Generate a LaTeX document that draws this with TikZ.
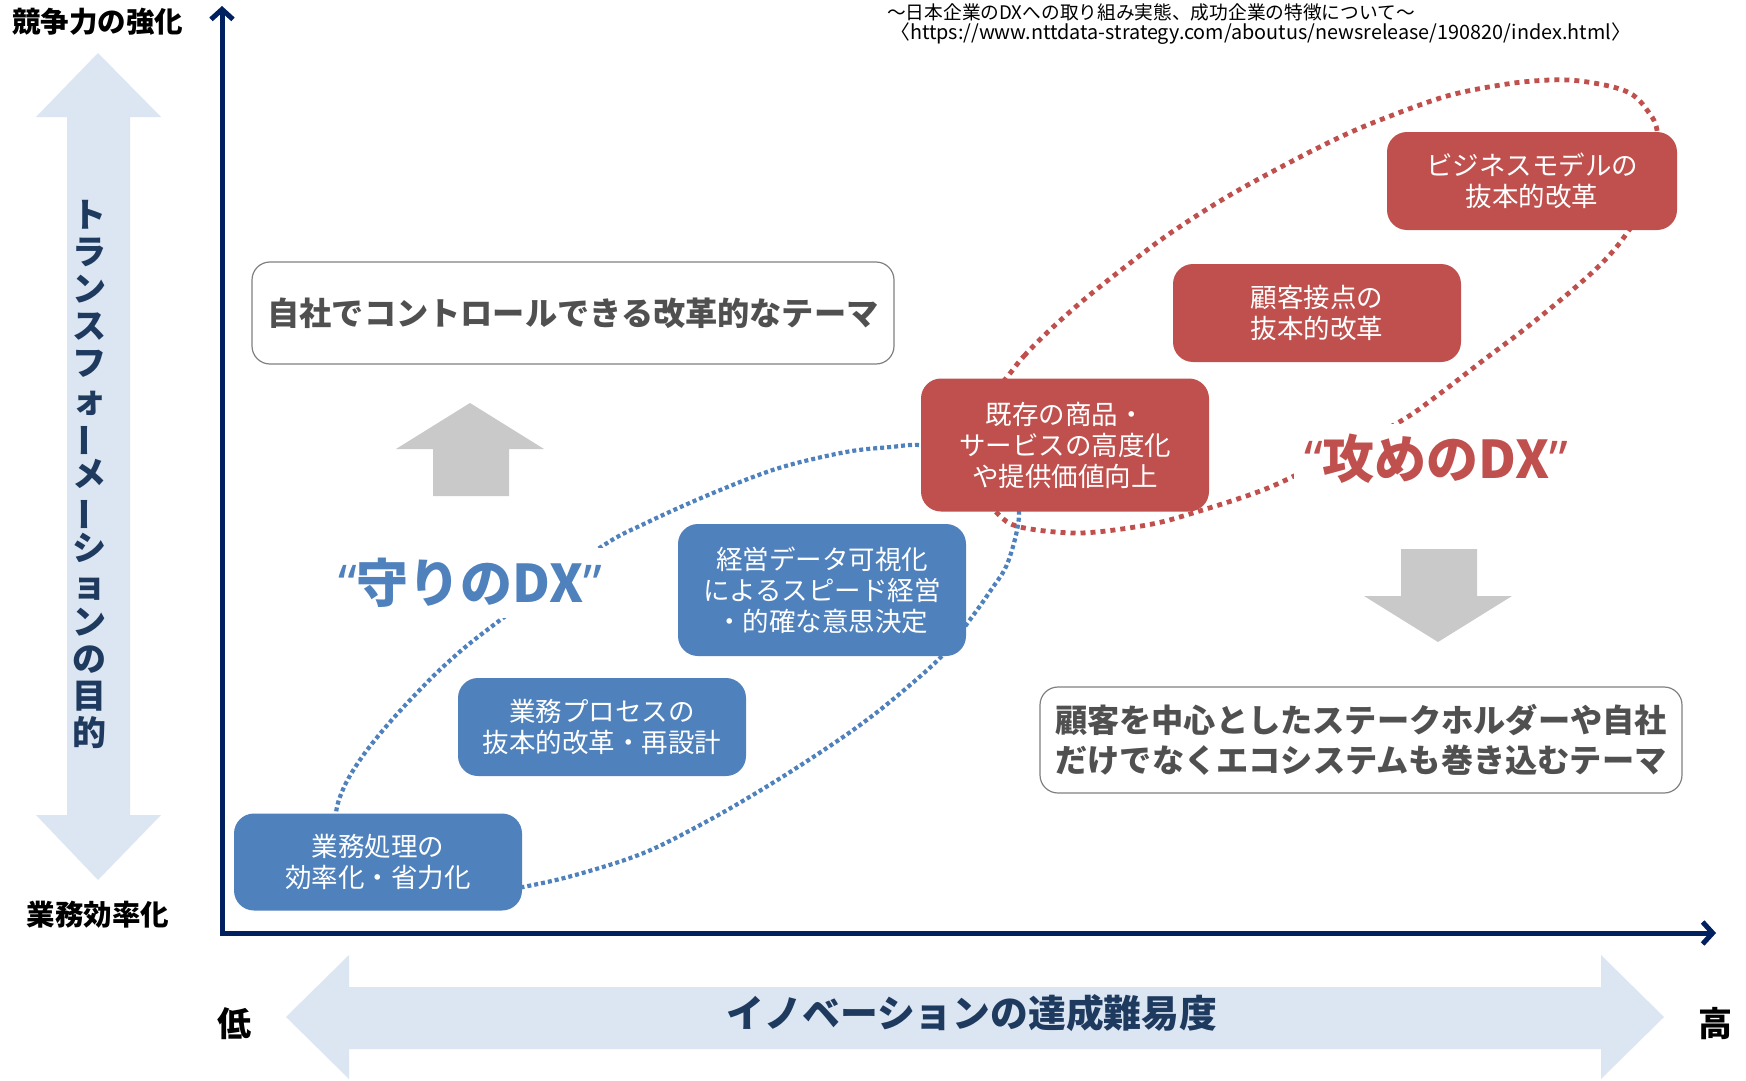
\documentclass[tikz,border=0pt]{standalone}
\usepackage{fontspec}
\usepackage{graphicx}
\setmainfont{Noto Sans CJK JP}
\newfontfamily\latq{Noto Sans}
\usetikzlibrary{arrows.meta}
\definecolor{boxblue}{HTML}{4F81BD}
\definecolor{boxred}{HTML}{C0504D}
\definecolor{axisnavy}{HTML}{002060}
\definecolor{lightarrow}{HTML}{DCE6F2}
\definecolor{grayarrow}{HTML}{C9C9C9}
\definecolor{navytext}{HTML}{1F3A5F}
\definecolor{themetext}{HTML}{505050}
\definecolor{themeborder}{HTML}{808080}
\newcommand{\vbarchar}{\smash{\rotatebox[origin=c]{90}{ー}}}
\tikzset{
  dxbox/.style={rounded corners=20pt, minimum width=288pt, inner sep=0pt, text=white, align=center, font=\fontsize{26.5}{31}\selectfont},
  bluebx/.style={dxbox, fill=boxblue},
  redbx/.style={dxbox, fill=boxred},
  themebox/.style={draw=themeborder, line width=1.2pt, fill=white, rounded corners=18pt, text=themetext, font=\bfseries\fontsize{32.2}{40}\selectfont, align=center, inner sep=0pt},
  bluedots/.style={draw=boxblue, line width=4.2pt, dash pattern=on 4pt off 3pt},
  reddots/.style={draw=boxred, line width=4.8pt, dash pattern=on 5pt off 5pt},
  axisline/.style={draw=axisnavy, line width=5pt, line join=miter},
  lightarr/.style={fill=lightarrow, draw=none},
  grayarr/.style={fill=grayarrow, draw=none},
  blacklabel/.style={font=\bfseries\fontsize{28.5}{32}\selectfont, text=black},
  biglabel/.style={font=\bfseries\fontsize{34}{38}\selectfont, text=black},
  dxlabel/.style={fill=white, inner sep=12pt, font=\bfseries\fontsize{52}{56}\selectfont},
  reftext/.style={anchor=west, text=black, inner sep=0pt}
}
\begin{document}
\begin{tikzpicture}[x=1pt,y=-1pt]
\useasboundingbox (0,0) rectangle (1746,1081);
\fill[white] (0,0) rectangle (1746,1081);

% light blue double arrows
\fill[lightarr] (98,53) -- (161,117) -- (130,117) -- (130,815) -- (161,815) -- (98,880)
  -- (36,815) -- (67,815) -- (67,117) -- (36,117) -- cycle;
\fill[lightarr] (286,1017) -- (349,955) -- (349,987) -- (1601,987) -- (1601,955) -- (1664,1017)
  -- (1601,1079) -- (1601,1049) -- (349,1049) -- (349,1079) -- cycle;

\node[font=\bfseries\fontsize{34}{37}\selectfont, text=navytext, align=center, inner sep=0pt] (vtext) at (89,474)
  {ト\\ラ\\ン\\ス\\フ\\ォ\\\vbarchar\\メ\\\vbarchar\\シ\\ョ\\ン\\の\\目\\的};
\node[font=\bfseries\fontsize{37.8}{42}\selectfont, text=navytext, inner sep=0pt] (htext) at (972,1013) {イノベーションの達成難易度};

% axes
\coordinate (O) at (222,933);
\coordinate (ytop) at (222,6);
\coordinate (xend) at (1716,933);
\draw[axisline, {Straight Barb[length=10pt,width=22pt]}-{Straight Barb[length=10pt,width=22pt]}] (ytop) -- (O) -- (xend);

% axis labels
\node[blacklabel] (top) at (98,22) {競争力の強化};
\node[blacklabel] (bottom) at (98,915) {業務効率化};
\node[biglabel] (low) at (234,1024) {低};
\node[biglabel] (high) at (1715,1024) {高};

% reference
\node[reftext, font=\fontsize{18.7}{20}\selectfont] (ref1) at (887,12) {～日本企業のDXへの取り組み実態、成功企業の特徴について～};
\node[reftext, font=\fontsize{19.8}{22}\selectfont] (ref2) at (890,34) {〈https://www.nttdata-strategy.com/aboutus/newsrelease/190820/index.html〉};

% gray arrows
\fill[grayarr] (470,403) -- (544,449) -- (509,449) -- (509,496) -- (433,496) -- (433,449) -- (396,449) -- cycle;
\fill[grayarr] (1401,549) -- (1477,549) -- (1477,596) -- (1512,596) -- (1438,642) -- (1364,596) -- (1401,596) -- cycle;

% dotted loops
\draw[bluedots] plot[smooth cycle, tension=0.55] coordinates {
  (336,813) (345,785) (362,757) (384,729) (412,698) (445,665) (487,630)
  (598,549) (646,523) (713,493) (779,468) (846,452) (891,447) (921,445)
  (975,451) (1008,474) (1019,514) (1008,562) (991,590) (969,621) (941,657)
  (891,701) (846,735) (779,779) (713,818) (646,852) (579,874) (523,887)
  (445,900) (370,885) (338,850)};
\draw[reddots] plot[smooth cycle, tension=0.55] coordinates {
  (1008,376) (1024,356) (1052,328) (1086,298) (1125,267) (1169,234) (1225,198)
  (1281,167) (1336,139) (1380,120) (1447,96) (1507,84) (1550,80) (1580,81)
  (1613,87) (1633,95) (1647,110) (1657,130) (1660,180) (1627,233)
  (1603,262) (1570,292) (1526,328) (1481,362) (1442,392) (1401,421)
  (1335,455) (1268,488) (1193,513) (1147,525) (1080,533) (1020,527) (997,513)
  (978,485) (972,445) (985,405)};

% DX labels
\node[dxlabel, text=boxblue, inner sep=10pt] (mamori) at (470,583) {{\latq\bfseries “}守りのDX{\latq\bfseries ”}};
\node[dxlabel, text=boxred, inner sep=10pt] (seme) at (1436,459) {{\latq\bfseries “}攻めのDX{\latq\bfseries ”}};

% boxes
\node[bluebx, minimum height=97pt] (b1) at (378,862) {業務処理の\\効率化・省力化};
\node[bluebx, minimum height=98pt] (b2) at (602,727) {業務プロセスの\\抜本的改革・再設計};
\node[bluebx, minimum height=132pt] (b3) at (822,590) {経営データ可視化\\によるスピード経営\\・的確な意思決定};
\node[redbx, minimum height=133pt] (b4) at (1065,445) {既存の商品・\\サービスの高度化\\や提供価値向上};
\node[redbx, minimum height=98pt] (b5) at (1317,313) {顧客接点の\\抜本的改革};
\node[redbx, minimum height=98pt, minimum width=290pt] (b6) at (1532,181) {ビジネスモデルの\\抜本的改革};

% theme boxes
\node[themebox, minimum width=642pt, minimum height=102pt] (t1) at (573,313) {自社でコントロールできる改革的なテーマ};
\node[themebox, minimum width=642pt, minimum height=106pt] (t2) at (1361,740) {顧客を中心としたステークホルダーや自社\\だけでなくエコシステムも巻き込むテーマ};
\end{tikzpicture}
\end{document}
